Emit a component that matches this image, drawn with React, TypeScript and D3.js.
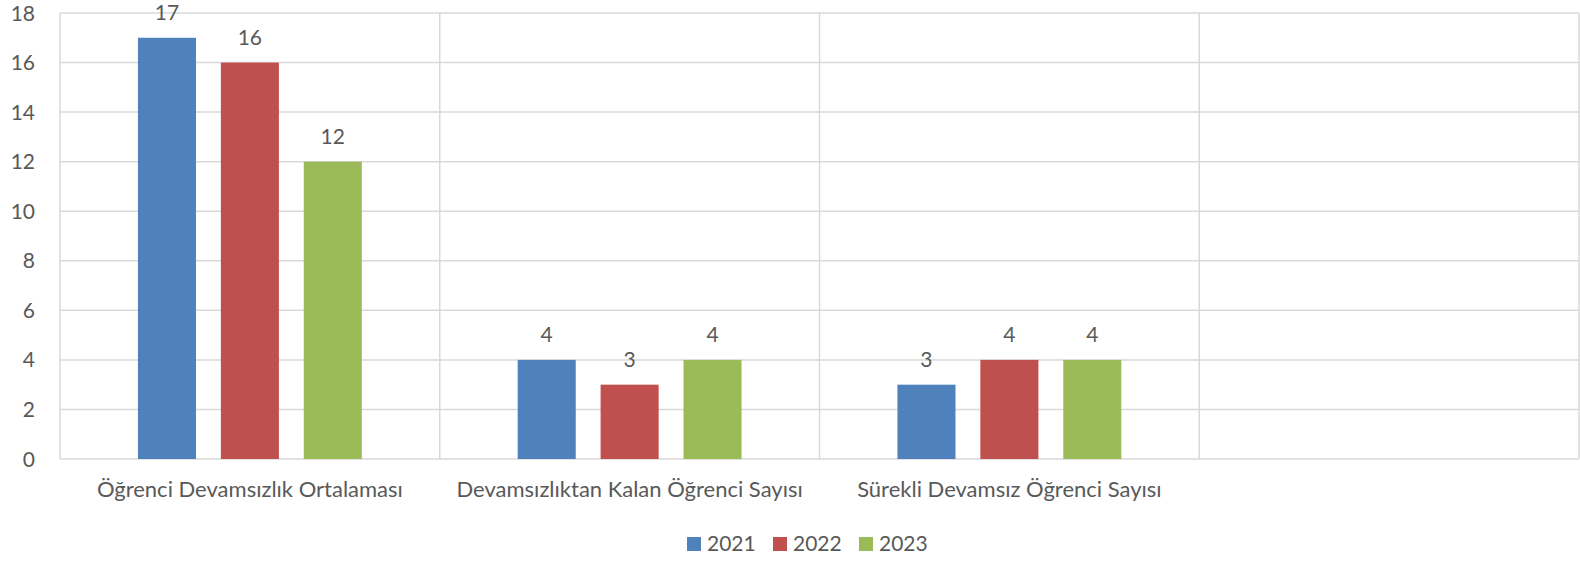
import React from 'react';
import * as d3 from 'd3';

const categories = [
  'Öğrenci Devamsızlık Ortalaması',
  'Devamsızlıktan Kalan Öğrenci Sayısı',
  'Sürekli Devamsız Öğrenci Sayısı',
  '',
];
const seriesNames = ['2021', '2022', '2023'];
const values2021 = [17, 4, 3];
const values2022 = [16, 3, 4];
const values2023 = [12, 4, 4];
const yTicks = [0, 2, 4, 6, 8, 10, 12, 14, 16, 18];

const colors = ['#4f81bd', '#c0504d', '#9bbb59'];
const FONT = 'Lato, sans-serif';
const TEXT = '#595959';
const GRID = '#d9d9d9';

export default function App() {
  const W = 1580;
  const H = 561;
  const margin = { top: 13, right: 1, bottom: 102, left: 60 };
  const innerW = W - margin.left - margin.right;
  const innerH = H - margin.top - margin.bottom;

  const series = [values2021, values2022, values2023];

  const x = d3.scaleBand().domain(categories.map((c, i) => String(i))).range([0, innerW]);
  const xs = d3.scaleBand().domain(seriesNames)
    .range([0, x.bandwidth()])
    .paddingInner(0.3)
    .paddingOuter(0.94);
  const y = d3.scaleLinear().domain([0, 18]).range([innerH, 0]);

  return (
    <svg width={W} height={H} style={{ position: 'absolute', left: 0, top: 0, background: '#fff' }}
      fontFamily={FONT}>
      <g transform={`translate(${margin.left},${margin.top})`}>
        {/* horizontal grid */}
        {yTicks.map((t) => (
          <line key={'h' + t} x1={0} x2={innerW} y1={y(t)} y2={y(t)} stroke={GRID} strokeWidth={1.5} />
        ))}
        {/* vertical separators */}
        {categories.map((c, i) => (
          <line key={'v' + i} x1={x(String(i))!} x2={x(String(i))!} y1={0} y2={innerH} stroke={GRID} strokeWidth={1.5} />
        ))}
        <line x1={innerW} x2={innerW} y1={0} y2={innerH} stroke={GRID} strokeWidth={1.5} />
        {/* y labels */}
        {yTicks.map((t) => (
          <text key={'y' + t} x={-25} y={y(t)} dy="0.36em" textAnchor="end" fontSize={21} fill={TEXT}>{t}</text>
        ))}
        {/* bars */}
        {series.map((vals, si) =>
          vals.map((v, ci) => {
            const bx = x(String(ci))! + xs(seriesNames[si])!;
            return (
              <g key={`b${si}-${ci}`}>
                <rect x={bx} y={y(v)} width={xs.bandwidth()} height={innerH - y(v)} fill={colors[si]} />
                <text x={bx + xs.bandwidth() / 2} y={y(v) - 18} textAnchor="middle" fontSize={21} fill={TEXT}>{v}</text>
              </g>
            );
          })
        )}
        {/* category labels */}
        {categories.map((c, i) => (
          <text key={'c' + i} x={x(String(i))! + x.bandwidth() / 2} y={innerH + 38} textAnchor="middle" fontSize={22} fill={TEXT}>{c}</text>
        ))}
      </g>
      {/* legend */}
      {seriesNames.map((s, i) => {
        const lx = 687 + i * 86;
        return (
          <g key={'l' + s}>
            <rect x={lx} y={537} width={14} height={14} fill={colors[i]} />
            <text x={lx + 20} y={551} fontSize={21} fill={TEXT}>{s}</text>
          </g>
        );
      })}
    </svg>
  );
}
